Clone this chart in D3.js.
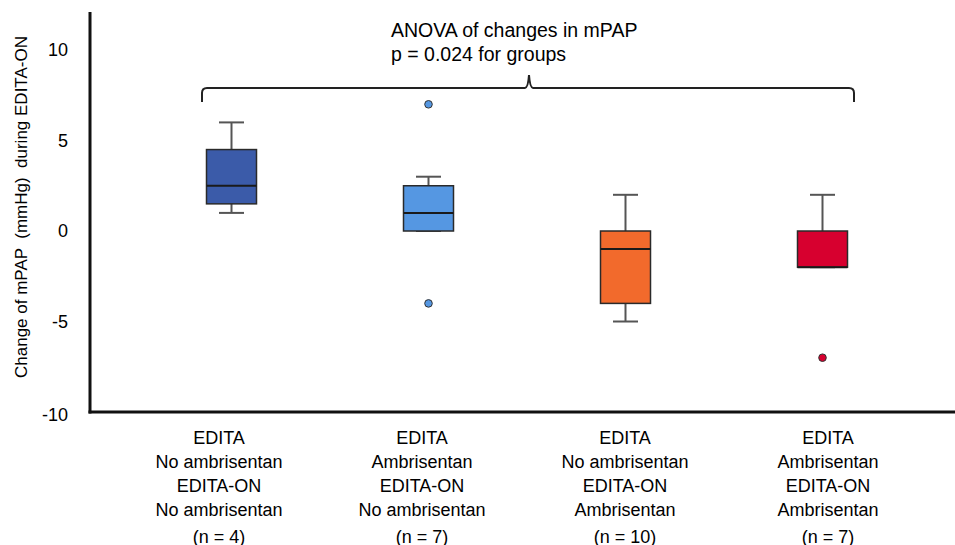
<!DOCTYPE html>
<html>
<head>
<meta charset="utf-8">
<script src="https://cdn.jsdelivr.net/npm/d3@7"></script>
<style>
  body { margin: 0; background: #fff; }
  text { font-family: "Liberation Sans", Arial, sans-serif; fill: #000; }
  .tick-label { font-size: 18px; }
  .cat-label { font-size: 18px; }
  .y-title { font-size: 17px; white-space: pre; }
  .anova { font-size: 19.5px; white-space: pre; }
</style>
</head>
<body>
<div id="chart"></div>
<script>
// data
const groups = ["G1", "G2", "G3", "G4"];
const labelLines = [
  ["EDITA", "No ambrisentan", "EDITA-ON", "No ambrisentan"],
  ["EDITA", "Ambrisentan", "EDITA-ON", "No ambrisentan"],
  ["EDITA", "No ambrisentan", "EDITA-ON", "Ambrisentan"],
  ["EDITA", "Ambrisentan", "EDITA-ON", "Ambrisentan"]
];
const nValues = [4, 7, 10, 7];
const whiskerLow  = [1, 0, -5, -2];
const q1          = [1.5, 0, -4, -2];
const medians     = [2.5, 1, -1, -2];
const q3          = [4.5, 2.5, 0, 0];
const whiskerHigh = [6, 3, 2, 2];
const outliers    = [[], [7, -4], [], [-7]];
const fillColors  = ["#3B5BA9", "#5597E2", "#F26A2C", "#D7002F"];
const yTicks = [-10, -5, 0, 5, 10];

const width = 955, height = 545;

const svg = d3.select("#chart")
  .append("svg")
  .attr("width", width)
  .attr("height", height);

// scales
const x = d3.scaleBand()
  .domain(groups)
  .range([133, 921]);

// category labels sit on a slightly wider spacing than the boxes
const xLabel = d3.scalePoint()
  .domain(groups)
  .range([219, 828]);

const y = d3.scaleLinear()
  .domain([-10, 12.1])
  .range([412, 12]);

const cx = g => x(g) + x.bandwidth() / 2;
const boxW = 50, capW = 25;

// axes lines (drawn by hand, thick black)
svg.append("line")
  .attr("x1", 90).attr("x2", 90)
  .attr("y1", y(12.1)).attr("y2", y(-10) + 1.5)
  .attr("stroke", "#111").attr("stroke-width", 3);
svg.append("line")
  .attr("x1", 88.5).attr("x2", width)
  .attr("y1", y(-10)).attr("y2", y(-10))
  .attr("stroke", "#111").attr("stroke-width", 3);

// y tick labels
svg.append("g")
  .selectAll("text")
  .data(yTicks)
  .join("text")
    .attr("class", "tick-label")
    .attr("x", 68)
    .attr("y", d => y(d) + (d === -10 ? 3 : 0))
    .attr("dy", "0.36em")
    .attr("text-anchor", "end")
    .text(d => d);

// y title
svg.append("text")
  .attr("class", "y-title")
  .attr("transform", "rotate(-90)")
  .attr("x", -207)
  .attr("y", 27)
  .attr("text-anchor", "middle")
  .text("Change of mPAP  (mmHg)  during EDITA-ON");

// boxes
const boxes = svg.append("g")
  .selectAll("g")
  .data(groups.map((g, i) => ({
    g, i, lo: whiskerLow[i], q1: q1[i], med: medians[i], q3: q3[i], hi: whiskerHigh[i],
    out: outliers[i], color: fillColors[i]
  })))
  .join("g");

// whiskers
boxes.append("line")
  .attr("x1", d => cx(d.g)).attr("x2", d => cx(d.g))
  .attr("y1", d => y(d.hi)).attr("y2", d => y(d.q3))
  .attr("stroke", "#555").attr("stroke-width", 2);
boxes.append("line")
  .attr("x1", d => cx(d.g)).attr("x2", d => cx(d.g))
  .attr("y1", d => y(d.lo)).attr("y2", d => y(d.q1))
  .attr("stroke", "#555").attr("stroke-width", 2);
boxes.append("line")
  .attr("x1", d => cx(d.g) - capW / 2).attr("x2", d => cx(d.g) + capW / 2)
  .attr("y1", d => y(d.hi)).attr("y2", d => y(d.hi))
  .attr("stroke", "#555").attr("stroke-width", 2);
boxes.append("line")
  .attr("x1", d => cx(d.g) - capW / 2).attr("x2", d => cx(d.g) + capW / 2)
  .attr("y1", d => y(d.lo)).attr("y2", d => y(d.lo))
  .attr("stroke", "#555").attr("stroke-width", 2);

// box body
boxes.append("rect")
  .attr("x", d => cx(d.g) - boxW / 2)
  .attr("y", d => y(d.q3))
  .attr("width", boxW)
  .attr("height", d => y(d.q1) - y(d.q3))
  .attr("fill", d => d.color)
  .attr("stroke", "#2a2a2a")
  .attr("stroke-width", 1.5);

// median
boxes.append("line")
  .attr("x1", d => cx(d.g) - boxW / 2).attr("x2", d => cx(d.g) + boxW / 2)
  .attr("y1", d => y(d.med)).attr("y2", d => y(d.med))
  .attr("stroke", "#1a1a1a").attr("stroke-width", 2);

// outliers
boxes.selectAll("circle")
  .data(d => d.out.map(v => ({v, g: d.g, color: d.color})))
  .join("circle")
    .attr("cx", d => cx(d.g))
    .attr("cy", d => y(d.v))
    .attr("r", 3.8)
    .attr("fill", d => d.color)
    .attr("stroke", "#333")
    .attr("stroke-width", 1);

// category labels
const labels = svg.append("g")
  .selectAll("text")
  .data(groups.map((g, i) => ({g, lines: labelLines[i], n: nValues[i]})))
  .join("text")
    .attr("class", "cat-label")
    .attr("text-anchor", "middle");

labels.selectAll("tspan")
  .data(d => d.lines.map((t, j) => ({t, j, g: d.g})))
  .join("tspan")
    .attr("x", d => xLabel(d.g))
    .attr("y", d => 443.5 + d.j * 24)
    .text(d => d.t);

labels.append("tspan")
  .attr("x", d => xLabel(d.g))
  .attr("y", 542.5)
  .text(d => `(n = ${d.n})`);

// ANOVA bracket
const bx1 = cx(groups[0]) - 29.5,
      bx2 = cx(groups[groups.length - 1]) + 31.5,
      bmid = 529,
      by = 88, bdrop = 102;
const bracket = `M${bx1},${bdrop} L${bx1},${by + 5} Q${bx1},${by} ${bx1 + 5},${by}`
  + ` L${bmid - 4},${by} Q${bmid - 1},${by} ${bmid},${by - 13} Q${bmid + 1},${by} ${bmid + 4},${by}`
  + ` L${bx2 - 5},${by} Q${bx2},${by} ${bx2},${by + 5} L${bx2},${bdrop}`;
svg.append("path")
  .attr("d", bracket)
  .attr("fill", "none")
  .attr("stroke", "#222")
  .attr("stroke-width", 2);

svg.append("text")
  .attr("class", "anova")
  .attr("x", 391)
  .attr("y", 37)
  .text("ANOVA of changes in mPAP");
svg.append("text")
  .attr("class", "anova")
  .attr("x", 391)
  .attr("y", 61)
  .text("p = 0.024 for groups");
</script>
</body>
</html>
